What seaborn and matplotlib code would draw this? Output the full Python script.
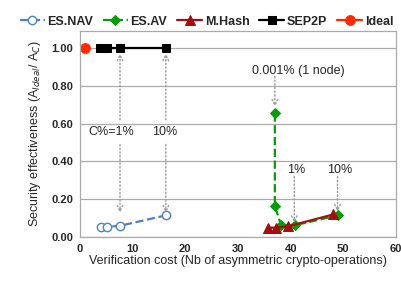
import matplotlib
matplotlib.use('Agg')
import matplotlib.pyplot as plt
import seaborn as sns

# data
nav_x = [3.9, 5.2, 7.6, 16.3]
nav_y = [0.055, 0.055, 0.06, 0.115]

av_x = [37.0, 37.0, 38.2, 40.8, 49.0]
av_y = [0.654, 0.164, 0.062, 0.063, 0.115]

hash_x = [35.7, 37.2, 39.5, 48.1]
hash_y = [0.05, 0.05, 0.057, 0.12]

sep_x = [3.8, 4.3, 5.2, 7.6, 16.3]
sep_y = [1.0, 1.0, 1.0, 1.0, 1.0]

ideal_x = [1.0]
ideal_y = [1.0]

sns.set_style('white')
plt.rcParams['font.family'] = ['Liberation Sans', 'DejaVu Sans']

fig = plt.figure(figsize=(4.02, 2.84), dpi=100)
ax = fig.add_axes([0.199, 0.165, 0.786, 0.726])

sns.lineplot(x=nav_x, y=nav_y, ax=ax, sort=False, estimator=None, color='#4F81BD',
             linestyle='--', linewidth=1.6, marker='o', markersize=6,
             markerfacecolor='white', markeredgecolor='#4F81BD', markeredgewidth=1,
             label='ES.NAV')
sns.lineplot(x=av_x, y=av_y, ax=ax, sort=False, estimator=None, color='#0A9A0A',
             linestyle='--', linewidth=1.6, marker='D', markersize=5,
             markeredgecolor='#0A9A0A', label='ES.AV')
sns.lineplot(x=hash_x, y=hash_y, ax=ax, sort=False, estimator=None, color='#A01010',
             linestyle='-', linewidth=1.6, marker='^', markersize=7,
             markeredgecolor='#A01010', label='M.Hash')
sns.lineplot(x=sep_x, y=sep_y, ax=ax, sort=False, estimator=None, color='black',
             linestyle='-', linewidth=1.6, marker='s', markersize=6,
             markeredgecolor='black', label='SEP2P')
sns.lineplot(x=ideal_x, y=ideal_y, ax=ax, sort=False, estimator=None, color='#FF2A00',
             linestyle='-', linewidth=1.6, marker='o', markersize=7,
             markeredgecolor='#FF2A00', label='Ideal')

ax.set_xlim(0, 60)
ax.set_ylim(0, 1.09)
ax.set_xticks(range(0, 61, 10))
ax.set_yticks([0, 0.2, 0.4, 0.6, 0.8, 1.0])
ax.set_yticklabels(['%.2f' % v for v in [0, 0.2, 0.4, 0.6, 0.8, 1.0]])
ax.yaxis.grid(True, color='#AAAAAA', linewidth=0.9)
ax.set_axisbelow(True)
for s in ax.spines.values():
    s.set_color('#AAAAAA')
    s.set_linewidth(0.9)
ax.tick_params(axis='both', labelsize=8, length=3, color='#AAAAAA', pad=2)
for lab in ax.get_xticklabels() + ax.get_yticklabels():
    lab.set_fontweight('bold')

ax.set_xlabel('Verification cost (Nb of asymmetric crypto-operations)', fontsize=9, labelpad=1)
ax.set_ylabel(r'Security effectiveness (A$_{Ideal}$/ A$_{C}$)', fontsize=9, labelpad=6)

# dotted arrows with annotations
arr = dict(arrowstyle='->', color='#999999', linestyle=':', linewidth=1, shrinkA=0, shrinkB=0)
ann = [(7.6, 0.62, 0.97), (7.6, 0.49, 0.13), (16.3, 0.62, 0.97), (16.3, 0.49, 0.13),
       (37.0, 0.85, 0.69), (40.7, 0.32, 0.075), (48.9, 0.32, 0.135)]
for x, y0, y1 in ann:
    ax.annotate('', xy=(x, y1), xytext=(x, y0), arrowprops=arr)

ax.text(5.9, 0.555, 'C%=1%', fontsize=9, ha='center', va='center')
ax.text(16.1, 0.555, '10%', fontsize=9, ha='center', va='center')
ax.text(41.5, 0.88, '0.001% (1 node)', fontsize=9, ha='center', va='center')
ax.text(41.0, 0.355, '1%', fontsize=9, ha='center', va='center')
ax.text(49.3, 0.355, '10%', fontsize=9, ha='center', va='center')

leg = ax.legend(loc='lower center', bbox_to_anchor=(0.4, 1.015), ncol=5, frameon=False,
                prop={'weight': 'bold', 'size': 9}, handlelength=2.0, handletextpad=0.2,
                columnspacing=0.8, borderaxespad=0, borderpad=0)

fig.savefig('out.png', dpi=100)
